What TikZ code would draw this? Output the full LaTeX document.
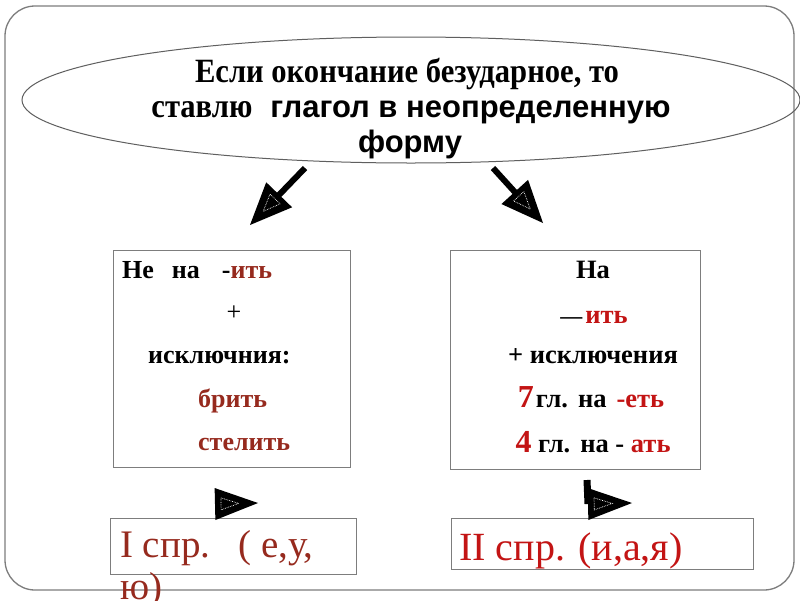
\documentclass[tikz,border=0pt]{standalone}
\usepackage{fontspec}
\setmainfont{Liberation Serif}
\newfontfamily\arialf{Liberation Sans}
\usetikzlibrary{calc,shapes.geometric}
\definecolor{brick}{RGB}{150,42,30}
\definecolor{sred}{RGB}{195,20,20}
\definecolor{framegray}{RGB}{125,125,125}
\definecolor{ellgray}{RGB}{95,95,95}
% #1 base centre, #2 tip, #3 half width, #4 prefix, #5 inner half width
\newcommand\headat[5]{%
  \fill ($(#1)!#3!90:(#2)$) -- (#2) -- ($(#1)!#3!-90:(#2)$) -- cycle;
  \coordinate (#4ib) at ($(#1)!0.14!(#2)$);
  \coordinate (#4it) at ($(#1)!0.55!(#2)$);
  \draw[innertri] ($(#4ib)!#5!90:(#4it)$) -- (#4it) -- ($(#4ib)!#5!-90:(#4it)$) -- cycle;
}
\newcommand\tallserif[1]{\scalebox{0.9}[1]{\fontsize{34}{38}\selectfont\bfseries #1}}
\begin{document}
\begin{tikzpicture}[x=1pt,y=-1pt,
  frame/.style={draw=framegray,line width=1.3pt},
  box/.style={draw=framegray,line width=1.3pt,rectangle,inner sep=0pt,anchor=north west},
  ell/.style={draw=ellgray,line width=1pt,ellipse,inner sep=0pt},
  txt/.style={inner sep=0pt,anchor=base,font=\fontsize{31}{36}\selectfont\bfseries},
  lt/.style={inner sep=0pt,anchor=base west,font=\fontsize{26}{30}\selectfont\bfseries},
  rt/.style={inner sep=0pt,anchor=base,font=\fontsize{26.5}{30}\selectfont\bfseries},
  big/.style={inner sep=0pt,anchor=base west,font=\fontsize{39}{44}\selectfont},
  shaft/.style={line width=6pt},
  innertri/.style={draw=white,densely dotted,line width=0.7pt}]
\useasboundingbox (0,0) rectangle (800,600);
\fill[white] (0,0) rectangle (800,600);
% outer frame
\draw[frame,rounded corners=30pt] (5,6) rectangle (794,590);
% ellipse
\node[ell,minimum width=778pt,minimum height=126pt] (ellq) at (411,100) {};
\node[txt] (q1) at (407,82) {\tallserif{Если окончание безударное, то}};
\node[txt] (q2) at (411,117) {\tallserif{ставлю}\hspace{18pt}{\arialf\bfseries глагол в неопределенную}};
\node[txt] (q3) at (410,152) {\arialf\bfseries форму};
% boxes
\node[box,minimum width=237pt,minimum height=217pt] (L) at (113,250) {};
\node[box,minimum width=250pt,minimum height=219pt] (R) at (450,250) {};
\node[box,minimum width=246pt,minimum height=56pt] (BL) at (110,518) {};
\node[box,minimum width=302pt,minimum height=51pt] (BR) at (451,518) {};
% left box text
\node[lt] (l1) at (122,278) {Не\hspace{18pt}на\hspace{22pt}-\textcolor{brick}{ить}};
\node[rt,font=\fontsize{26}{30}\selectfont] (l2) at (234,320) {+};
\node[lt] (l3) at (148,363) {исключния:};
\node[lt,text=brick] (l4) at (198,407) {брить};
\node[lt,text=brick] (l5) at (198,450) {стелить};
% right box text
\node[rt] (r1) at (593,278) {На};
\node[rt] (r2) at (594,323) {{\fontsize{22}{26}\selectfont —}\hspace{3pt}\textcolor{sred}{ить}};
\node[rt] (r3) at (593,363) {+ исключения};
\node[rt] (r4) at (591,407) {{\fontsize{32}{34}\selectfont\textcolor{sred}{7}}\hspace{2pt}гл.\hspace{10pt}на\hspace{10pt}\textcolor{sred}{-еть}};
\node[rt] (r5) at (593,452) {{\fontsize{32}{34}\selectfont\textcolor{sred}{4}} гл.\hspace{10pt}на - \textcolor{sred}{ать}};
% bottom texts
\node[big,text=brick] (b1) at (120,557) {I спр.\hspace{28pt}( е,у,};
\node[big,text=brick] (b1b) at (120,599) {ю)};
\node[big,text=sred,font=\fontsize{40}{44}\selectfont] (b2) at (459,560) {II спр. (и,а,я)};
% top arrows
\coordinate (a1s) at (305,168);
\coordinate (a1t) at (250,225);
\coordinate (a1b) at ($(a1t)!42pt!(a1s)$);
\draw[shaft] (a1s) -- ($(a1b)!4pt!(a1t)$);
\headat{a1b}{a1t}{18pt}{a1}{7pt}
\coordinate (a2s) at (493,168);
\coordinate (a2t) at (543,223);
\coordinate (a2b) at ($(a2t)!42pt!(a2s)$);
\draw[shaft] (a2s) -- ($(a2b)!4pt!(a2t)$);
\headat{a2b}{a2t}{18pt}{a2}{7pt}
% bottom arrow heads
\coordinate (a3b) at (215,504);
\coordinate (a3t) at (258,503);
\headat{a3b}{a3t}{16pt}{a3}{6pt}
\coordinate (a4s) at (587,480);
\coordinate (a4b) at (588,504);
\coordinate (a4t) at (632,503);
\draw[shaft,line width=7pt] (a4s) -- (a4b);
\headat{a4b}{a4t}{16pt}{a4}{6pt}
\end{tikzpicture}
\end{document}
